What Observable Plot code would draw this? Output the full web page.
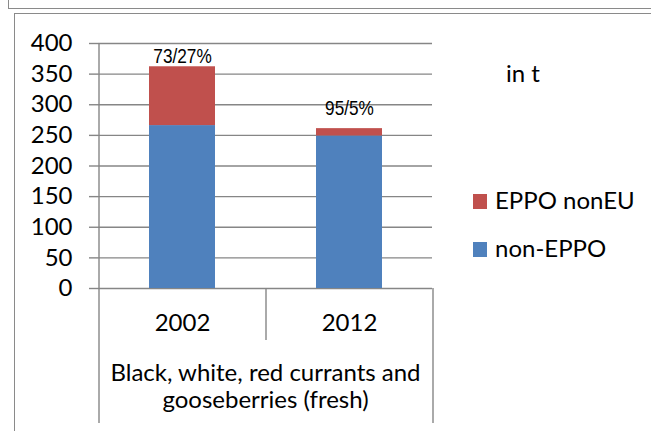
<!DOCTYPE html>
<html>
<head>
<meta charset="utf-8">
<script src="https://cdn.jsdelivr.net/npm/d3@7"></script>
<script src="https://cdn.jsdelivr.net/npm/@observablehq/plot@0.6"></script>
<style>
  html, body { margin: 0; padding: 0; background: #fff; }
  #wrap { position: relative; width: 651px; height: 431px; overflow: hidden; font-family: Lato, "Open Sans", sans-serif; }
  #outer { position: absolute; left: 8px; top: -2px; width: 700px; height: 10px; border-left: 1.5px solid #8a8a8a; border-bottom: 1.5px solid #8a8a8a; }
  #frame { position: absolute; left: 14px; top: 13px; width: 700px; height: 500px; border-left: 1.5px solid #8a8a8a; border-top: 1.5px solid #8a8a8a; }
  #chart { position: absolute; left: 0; top: 0; }
  #unit { position: absolute; left: 506px; top: 58px; font-size: 24px; line-height: normal; color: #000; }
  #legend { position: absolute; left: 473px; top: 185px; font-size: 24px; color: #000; }
  .item { position: relative; height: 48px; line-height: normal; padding-left: 22px; white-space: nowrap; }
  .sw { position: absolute; left: 0; top: 9px; width: 14px; height: 15px; }
</style>
</head>
<body>
<div id="wrap">
  <div id="outer"></div>
  <div id="frame"></div>
  <div id="chart"></div>
  <div id="unit"></div>
  <div id="legend"></div>
</div>
<script>
// ---- data ----
const years = ["2002", "2012"];
const nonEPPO = [266, 249];
const eppoNonEU = [96, 12];
const shareLabels = ["73/27%", "95/5%"];
const seriesNames = ["non-EPPO", "EPPO nonEU"];
const seriesColors = ["#4F81BD", "#C0504D"];
const legendOrder = ["EPPO nonEU", "non-EPPO"];
const yTicks = [0, 50, 100, 150, 200, 250, 300, 350, 400];
const groupLabel = "Black, white, red currants and\ngooseberries (fresh)";
const unitLabel = "in t";

// ---- layout ----
const W = 651, H = 431;
const mL = 98, mR = 219, mT = 43, mB = 143;
const plotW = W - mL - mR, plotH = H - mT - mB;
const step = plotW / years.length;
const grid = "#868686";
const font = 'Lato, "Open Sans", sans-serif';
const narrowFont = '"Liberation Sans", Arial, sans-serif';
const fs = 24;

const rows = [];
years.forEach((y, i) => {
  rows.push({year: y, series: seriesNames[0], value: nonEPPO[i]});
  rows.push({year: y, series: seriesNames[1], value: eppoNonEU[i]});
});
const totals = years.map((y, i) => ({year: y, total: nonEPPO[i] + eppoNonEU[i], label: shareLabels[i]}));

const chart = Plot.plot({
  width: W, height: H,
  marginLeft: mL, marginRight: mR, marginTop: mT, marginBottom: mB,
  style: {background: "transparent", fontFamily: font, overflow: "visible"},
  x: {domain: years, paddingInner: 0.605, paddingOuter: 0.3025, axis: null},
  y: {domain: [0, 400], axis: null},
  color: {domain: seriesNames, range: seriesColors},
  marks: [
    Plot.ruleY(yTicks, {stroke: grid, strokeWidth: 1.4}),
    Plot.axisY({ticks: yTicks, tickSize: 9, tickPadding: 17, fontSize: fs, fontFamily: font, stroke: grid, strokeWidth: 1.4, fill: "#000", tickFormat: d => String(d), label: null}),
    Plot.barY(rows, {x: "year", y: "value", fill: "series"}),
    // left boundary (y axis line continuing into the category table)
    Plot.ruleX([years[0]], {x: d => d, dx: -step / 2, stroke: grid, strokeWidth: 1.4, insetBottom: -135}),
    // middle separator
    Plot.ruleX(years.slice(1), {x: d => d, dx: -step / 2, stroke: grid, strokeWidth: 1.4, insetTop: plotH, insetBottom: -52}),
    // right boundary
    Plot.ruleX([years[years.length - 1]], {x: d => d, dx: step / 2, stroke: grid, strokeWidth: 1.4, insetTop: plotH, insetBottom: -135}),
    // category labels
    Plot.text(years, {x: d => d, frameAnchor: "bottom", lineAnchor: "middle", dy: 35, text: d => d, fontSize: fs, fontFamily: font, fill: "#000"}),
    // group label
    Plot.text([groupLabel], {frameAnchor: "bottom", lineAnchor: "middle", dy: 97, text: d => d, fontSize: fs, fontFamily: font, lineHeight: 1.13, fill: "#000"}),
    // share labels
    Plot.text(totals.slice(0, 1), {x: "year", y: "total", text: "label", dy: -11, fontSize: 21, fontFamily: narrowFont, fill: "#000"}),
    Plot.text(totals.slice(1), {x: "year", y: "total", text: "label", dy: -20, fontSize: 21, fontFamily: narrowFont, fill: "#000"})
  ]
});
document.getElementById("chart").appendChild(chart);

// condense the share labels (the reference uses a narrow sans face)
d3.select(chart).selectAll("text").each(function () {
  if (shareLabels.includes(this.textContent)) {
    const len = this.getComputedTextLength();
    this.setAttribute("textLength", (len * 0.82).toFixed(1));
    this.setAttribute("lengthAdjust", "spacingAndGlyphs");
  }
});

document.getElementById("unit").textContent = unitLabel;
const legend = document.getElementById("legend");
legendOrder.forEach(name => {
  const item = document.createElement("div");
  item.className = "item";
  const sw = document.createElement("div");
  sw.className = "sw";
  sw.style.background = seriesColors[seriesNames.indexOf(name)];
  const t = document.createElement("span");
  t.textContent = name;
  item.appendChild(sw); item.appendChild(t);
  legend.appendChild(item);
});
</script>
</body>
</html>
